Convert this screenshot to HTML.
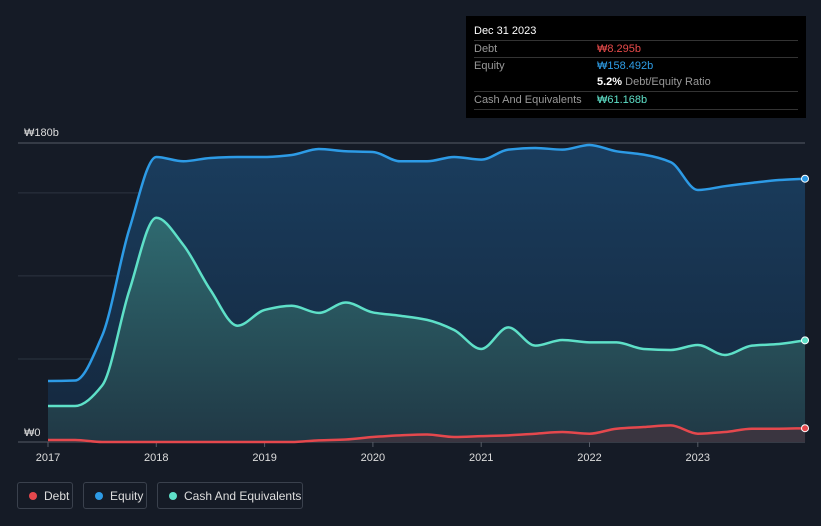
<!DOCTYPE html>
<html><head><meta charset="utf-8"><style>
body{margin:0;background:#151b26;width:821px;height:526px;overflow:hidden;font-family:"Liberation Sans",sans-serif;}
svg{position:absolute;left:0;top:0}
.tip{position:absolute;left:466px;top:16px;width:340px;height:102px;background:#000;color:#fff;font-size:11px}
.tip .r{position:absolute;left:8px;width:324px;border-top:1px solid #333;height:17px;line-height:17px;color:#999}
.tip .v{position:absolute;left:123px}
.leg{position:absolute;top:482px;height:27px;border:1px solid #3a414d;border-radius:3px;color:#ddd;font-size:12px;line-height:27px;box-sizing:border-box}
.leg i{position:absolute;left:11px;top:9px;width:8px;height:8px;border-radius:50%}
.leg span{position:absolute;left:26px}
</style></head><body>
<svg id="c" width="821" height="526"></svg>
<div class="tip">
<div style="position:absolute;left:8px;top:9px;font-size:11px">Dec 31 2023</div>
<div class="r" style="top:24px">Debt<b class="v" style="color:#e64a4a;font-weight:normal">₩8.295b</b></div>
<div class="r" style="top:41px">Equity<b class="v" style="color:#2e9de6;font-weight:normal">₩158.492b</b></div>
<div class="r" style="top:58px;border-top:none"><span class="v"><b style="color:#fff">5.2%</b> Debt/Equity Ratio</span></div>
<div class="r" style="top:75px;border-bottom:1px solid #333">Cash And Equivalents<b class="v" style="color:#5ee0c8;font-weight:normal">₩61.168b</b></div>
</div>
<div class="leg" style="left:17px;width:56px"><i style="background:#e5484d"></i><span>Debt</span></div>
<div class="leg" style="left:83px;width:64px"><i style="background:#2d9be6"></i><span>Equity</span></div>
<div class="leg" style="left:157px;width:146px"><i style="background:#5ee0c8"></i><span>Cash And Equivalents</span></div>
<script>
const times=[2017,2017.25,2017.5,2017.75,2018,2018.25,2018.5,2018.75,2019,2019.25,2019.5,2019.75,2020,2020.25,2020.5,2020.75,2021,2021.25,2021.5,2021.75,2022,2022.25,2022.5,2022.75,2023,2023.25,2023.5,2023.75,2023.99];
const equity=[36.7,37,64,128,171.6,169,171,171.6,171.6,172.8,176.4,175,174.6,169,169,171.6,170,176,177,176,178.8,175,173,168.5,151.7,154,156,157.7,158.5];
const cash=[21.7,21.7,34,91,135,118.6,91.5,70,79.5,82,77.7,84,78,76,73.5,67.4,56,69,58,61.4,60,60,56,55.4,58.4,52.4,58,59,61.2];
const debt=[1.2,1.2,0,0,0,0,0,0,0,0,1,1.5,3,4,4.5,3,3.5,4,5,6,5,8,9,10,5,6,8,8,8.3];
const yTicks=[0,50,100,150,180];
const xTicks=[2017,2018,2019,2020,2021,2022,2023];
const X=t=>48+(t-2017)*108.3, Y=v=>442-v*299/180;
const s=document.getElementById('c'),NS='http://www.w3.org/2000/svg';
function mk(tag,a,p){const e=document.createElementNS(NS,tag);for(const k in a)e.setAttribute(k,a[k]);(p||s).appendChild(e);return e;}
s.innerHTML='<defs><linearGradient id="ge" x1="0" y1="0" x2="0" y2="1"><stop offset="0" stop-color="#1a3d5e"/><stop offset="1" stop-color="#14273d"/></linearGradient><linearGradient id="gc" x1="0" y1="0" x2="0" y2="1"><stop offset="0" stop-color="#2f6a70"/><stop offset="1" stop-color="#203845"/></linearGradient></defs>';
yTicks.forEach(v=>{const l=mk('line',{x1:18,x2:805,y1:Y(v),y2:Y(v),stroke:v==0||v==180?'#555b66':'#2c3440','stroke-width':1});

});
[['₩180b',180,-7],['₩0',0,-6]].forEach(([t,v,d])=>{const e=mk('text',{x:24,y:Y(v)+d,fill:'#ddd','font-size':11});e.textContent=t;

});
xTicks.forEach(t=>{mk('line',{x1:X(t),x2:X(t),y1:442,y2:447,stroke:'#555b66'});const e=mk('text',{x:X(t),y:461,fill:'#ddd','font-size':11,'text-anchor':'middle'});e.textContent=t;

});
function path(vals){const p=times.map((t,i)=>[X(t),Y(vals[i])]);const n=p.length;
const dl=[],m=[];for(let i=0;i<n-1;i++)dl.push((p[i+1][1]-p[i][1])/(p[i+1][0]-p[i][0]));
for(let i=0;i<n;i++){if(i==0)m.push(dl[0]);else if(i==n-1)m.push(dl[n-2]);else if(dl[i-1]*dl[i]<=0)m.push(0);else{m.push(2/(1/dl[i-1]+1/dl[i]));}}
m[0]=0;
let d='M'+p[0];
for(let i=0;i<n-1;i++){const h=(p[i+1][0]-p[i][0])/3;d+='C'+[p[i][0]+h,p[i][1]+m[i]*h]+' '+[p[i+1][0]-h,p[i+1][1]-m[i+1]*h]+' '+p[i+1];}return d;}
const base='L'+X(2023.99)+','+Y(0)+'L'+X(2017)+','+Y(0)+'Z';
const ea=mk('path',{d:path(equity)+base,fill:'url(#ge)'});


const ca=mk('path',{d:path(cash)+base,fill:'url(#gc)'});


const da=mk('path',{d:path(debt)+base,fill:'#3a3540'});


[[equity,'#2d9be6','equity-line'],[cash,'#5ee0c8','cash-line'],[debt,'#e5484d','debt-line']].forEach(([v,c,n])=>{
const l=mk('path',{d:path(v),fill:'none',stroke:c,'stroke-width':2.5});


const d=mk('circle',{cx:X(times[times.length-1]),cy:Y(v[v.length-1]),r:3.5,fill:c,stroke:'#fff','stroke-width':1});

});
</script>
</body></html>
